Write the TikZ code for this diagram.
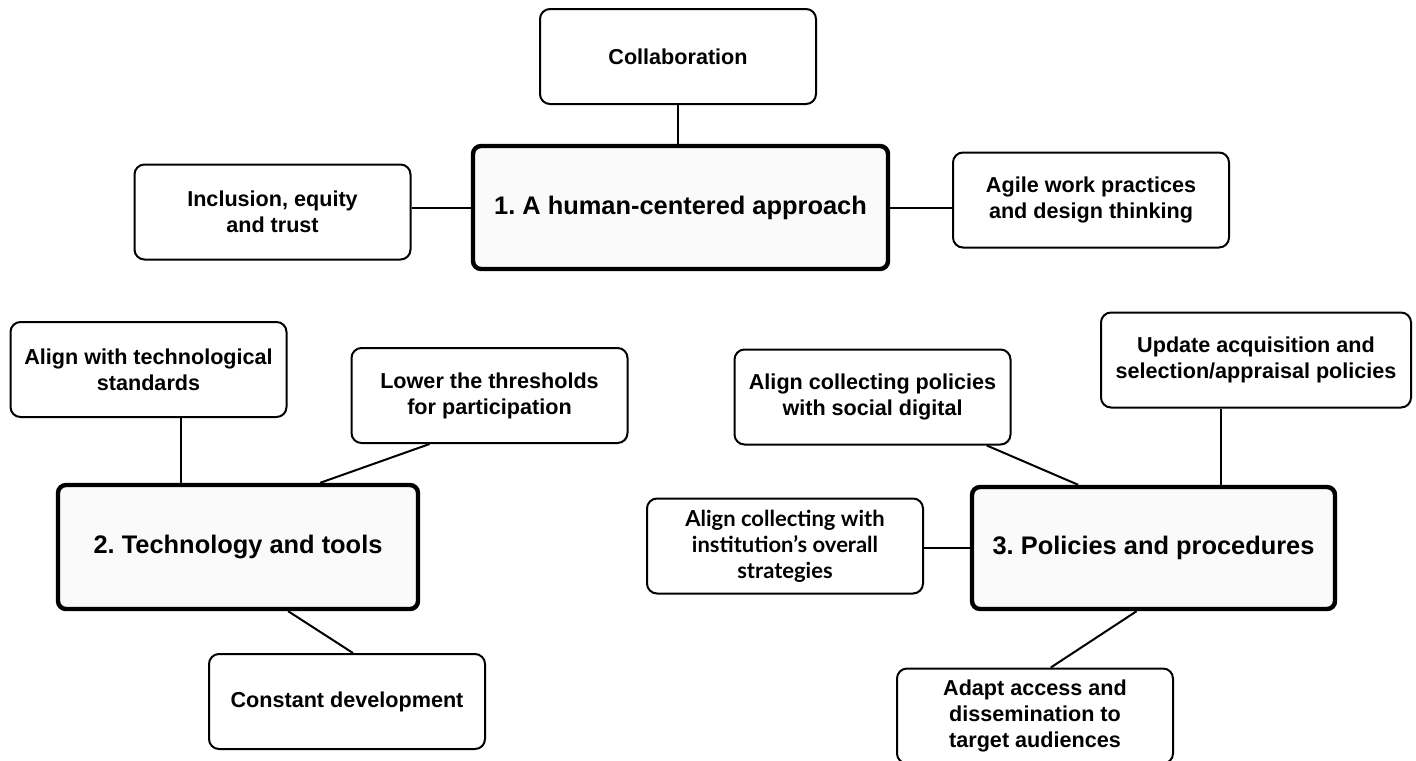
\documentclass[tikz,border=0pt]{standalone}
\usepackage{fontspec}
\setmainfont{Liberation Sans}
\newfontfamily\gillfont{Lato}
\usetikzlibrary{positioning,calc}
\frenchspacing

\begin{document}
\begin{tikzpicture}[
  x=0.5pt,y=-0.5pt,
  themenode/.style={draw,line width=2.2pt,rounded corners=4pt,fill=gray!4,align=center,inner sep=0pt,
    font=\fontsize{12.7}{15}\selectfont\bfseries},
  itemnode/.style={draw,line width=1pt,rounded corners=5pt,align=center,inner sep=0pt,
    minimum width=138pt,minimum height=47.5pt,font=\fontsize{10.8}{13}\selectfont\bfseries},
  link/.style={line width=1pt}
]
\useasboundingbox (0,0) rectangle (1416,760);

% 1. human-centered
\node[themenode,minimum width=207.5pt,minimum height=61.5pt] (human) at (680.5,207.5) {1. A human-centered approach};
\node[itemnode] (collab) at (678,56.5) {Collaboration};
\node[itemnode] (incl) at (272.5,212) {Inclusion, equity\\and trust};
\node[itemnode] (agile) at (1091,200) {Agile work practices\\and design thinking};

% 2. technology
\node[themenode,minimum width=180pt,minimum height=62pt] (tech) at (238,547) {2. Technology and tools};
\node[itemnode] (standards) at (148.5,369.5) {Align with technological\\standards};
\node[itemnode] (thresh) at (489.5,395.5) {Lower the thresholds\\for participation};
\node[itemnode] (constdev) at (347,701.5) {Constant development};

% 3. policies
\node[themenode,minimum width=181.5pt,minimum height=61pt] (policy) at (1153.5,548) {3. Policies and procedures};
\node[itemnode] (social) at (872.5,397) {Align collecting policies\\with social digital};
\node[itemnode,minimum width=155pt] (update) at (1256,360) {Update acquisition and\\selection/appraisal policies};
\node[itemnode,font=\gillfont\fontsize{11}{13}\selectfont\bfseries] (inst) at (785,546) {Align collecting with\\institution’s overall\\strategies};
\node[itemnode] (adapt) at (1035,716) {Adapt access and\\dissemination to\\target audiences};

\draw[link] (collab.south) -- (collab.south |- human.north);
\draw[link] (human.west) -- (human.west -| incl.east);
\draw[link] (human.east) -- (human.east -| agile.west);

\draw[link] (standards.-56) -- (standards.-56 |- tech.north);
\draw[link] (thresh.-141) -- (tech.38);
\draw[link] (tech.-52) -- (constdev.83);

\draw[link] (social.-23) -- (policy.140);
\draw[link] (update.-126) -- (update.-126 |- policy.north);
\draw[link] (policy.west) -- (policy.west -| inst.east);
\draw[link] (policy.-105) -- (adapt.72);

\end{tikzpicture}
\end{document}
